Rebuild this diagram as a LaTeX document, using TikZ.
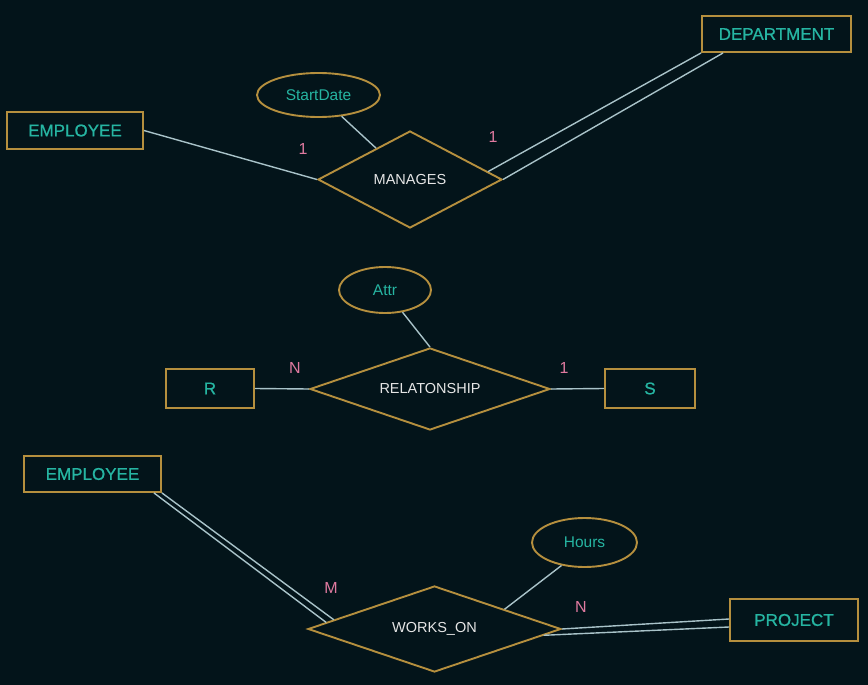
\documentclass[tikz,border=0pt]{standalone}
\usepackage{fontspec}
\setmainfont{Liberation Sans}
\newfontfamily\semibold[FakeBold=0.8]{Liberation Sans}
\usetikzlibrary{shapes.geometric,calc}
\definecolor{bg}{HTML}{03141A}
\definecolor{gold}{HTML}{B58F3E}
\definecolor{teal}{HTML}{26B5A2}
\definecolor{conn}{HTML}{A9C3C9}
\definecolor{pink}{HTML}{E07AA0}
\definecolor{reltext}{HTML}{E6E6E6}
\begin{document}
\begin{tikzpicture}[x=1pt,y=-1pt,
  entity/.style={draw=gold,line width=1.9pt,text=teal,inner sep=0pt,
    font=\semibold\fontsize{17}{19}\selectfont},
  relship/.style={shape=diamond,draw=gold,line width=1.9pt,text=reltext,inner sep=0pt,
    font=\fontsize{14.5}{16}\selectfont},
  attrib/.style={shape=ellipse,draw=gold,line width=1.9pt,text=teal,inner sep=0pt,
    font=\fontsize{15.5}{17}\selectfont},
  link/.style={draw=conn,line width=1.4pt},
  card/.style={text=pink,inner sep=0pt,font=\fontsize{16}{18}\selectfont}]
\useasboundingbox (0,0) rectangle (868,685);
\fill[bg] (0,0) rectangle (868,685);

% entities
\node[entity,minimum width=136pt,minimum height=37pt] (emp1) at (75,130.5) {EMPLOYEE};
\node[entity,minimum width=149pt,minimum height=36pt] (dept) at (776.5,34) {DEPARTMENT};
\node[entity,minimum width=88pt,minimum height=39pt] (r) at (210,388.5) {R};
\node[entity,minimum width=90pt,minimum height=39pt] (s) at (650,388.5) {S};
\node[entity,minimum width=137pt,minimum height=36pt] (emp2) at (92.5,474) {EMPLOYEE};
\node[entity,minimum width=128pt,minimum height=42pt] (proj) at (794,620) {PROJECT};

% relationships
\node[relship,shape aspect=1.9,minimum width=184pt,minimum height=97pt] (man) at (410,179.5) {MANAGES};
\node[relship,shape aspect=2.93,minimum width=240pt,minimum height=82pt] (rel) at (430,389) {RELATONSHIP};
\node[relship,shape aspect=2.94,minimum width=253pt,minimum height=86pt] (wo) at (434.5,629) {WORKS\_ON};

% attributes
\node[attrib,minimum width=123pt,minimum height=44pt] (sd) at (318.5,95) {StartDate};
\node[attrib,minimum width=92pt,minimum height=46pt] (attr) at (385,290) {Attr};
\node[attrib,minimum width=105pt,minimum height=49pt] (hrs) at (584.5,542.5) {Hours};

% connectors
\draw[link] (emp1.east) -- (man.west);
\draw[link] (sd) -- (man);
\draw[link] (dept.south west) -- ($(man.north)!0.84!(man.east)$);
\draw[link] ([xshift=22pt]dept.south west) -- (man.east);

\draw[link] (r.east) -- (rel.west);
\draw[link] (s.west) -- (rel.east);
\draw[link] (attr) -- (rel.north);

\draw[link] ([xshift=-8pt]emp2.south east) -- ($(wo.west)!0.15!(wo.north)$);
\draw[link] (emp2.south east) -- ($(wo.west)!0.21!(wo.north)$);
\draw[link] (hrs.225) -- ($(wo.north)!0.55!(wo.east)$);
\draw[link] ([yshift=1pt]proj.west) -- (wo.east);
\draw[link] ([yshift=-7pt]proj.west) -- ($(wo.east)!0.143!(wo.south)$);

% cardinalities
\node[card] (c1) at (303,149) {1};
\node[card] (c2) at (493,137) {1};
\node[card] (c3) at (295,368) {N};
\node[card] (c4) at (564,368) {1};
\node[card] (c5) at (331,588) {M};
\node[card] (c6) at (581,607) {N};
\end{tikzpicture}
\end{document}
